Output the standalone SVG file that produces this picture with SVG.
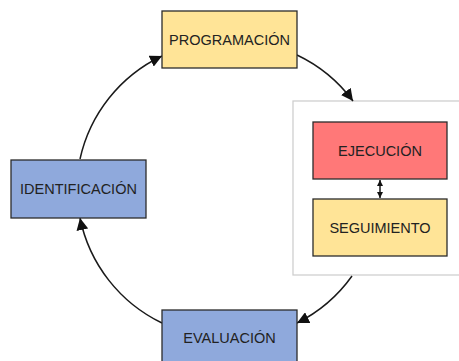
<svg xmlns="http://www.w3.org/2000/svg" width="459" height="361" viewBox="0 0 459 361">
  <defs>
    <style>
      .box { stroke: #2b2b2b; stroke-width: 1.3; }
      .yellow { fill: #FFE497; }
      .blue { fill: #8FA9DC; }
      .red { fill: #FF7878; }
      .lbl { font-family: "Liberation Sans", Arial, sans-serif; font-size: 14.5px; fill: #222; text-anchor: middle; dominant-baseline: central; }
      .conn { fill: none; stroke: #1a1a1a; stroke-width: 1.5; }
    </style>
    <marker id="arr" viewBox="0 0 10 10" refX="10" refY="5" markerWidth="12" markerHeight="12" markerUnits="userSpaceOnUse" orient="auto">
      <path d="M0,0 L10,5 L0,10 z" fill="#111"/>
    </marker>
    <marker id="sm" viewBox="0 0 10 10" refX="10" refY="5" markerWidth="6" markerHeight="6" markerUnits="userSpaceOnUse" orient="auto-start-reverse">
      <path d="M0,0 L10,5 L0,10 z" fill="#111"/>
    </marker>
  </defs>
  <rect width="459" height="361" fill="#ffffff"/>

  <g id="container">
    <rect x="293" y="101" width="175" height="174" fill="#ffffff" stroke="#cfcfcf" stroke-width="1.3"/>
  </g>

  <g id="connectors">
    <path class="conn" d="M80,159 A150,150 0 0 1 162,56" marker-end="url(#arr)"/>
    <path class="conn" d="M297,55 A150,150 0 0 1 353,101" marker-end="url(#arr)"/>
    <path class="conn" d="M352,276 A150,150 0 0 1 297,323" marker-end="url(#arr)"/>
    <path class="conn" d="M162,323 A150,150 0 0 1 80,218" marker-end="url(#arr)"/>
    <line class="conn" x1="380" y1="180" x2="380" y2="198" stroke-width="1.2" marker-start="url(#sm)" marker-end="url(#sm)"/>
  </g>

  <g id="programacion">
    <rect class="box yellow" x="162" y="11" width="135" height="57"/>
    <text class="lbl" x="229.5" y="39.5">PROGRAMACIÓN</text>
  </g>

  <g id="ejecucion">
    <rect class="box red" x="313" y="122" width="134" height="57"/>
    <text class="lbl" x="380" y="150.5">EJECUCIÓN</text>
  </g>

  <g id="seguimiento">
    <rect class="box yellow" x="313" y="199" width="134" height="57"/>
    <text class="lbl" x="380" y="227.5">SEGUIMIENTO</text>
  </g>

  <g id="identificacion">
    <rect class="box blue" x="11" y="160" width="135" height="58"/>
    <text class="lbl" x="78.5" y="189">IDENTIFICACIÓN</text>
  </g>

  <g id="evaluacion">
    <rect class="box blue" x="162" y="310" width="135" height="57"/>
    <text class="lbl" x="229.5" y="338">EVALUACIÓN</text>
  </g>
</svg>
